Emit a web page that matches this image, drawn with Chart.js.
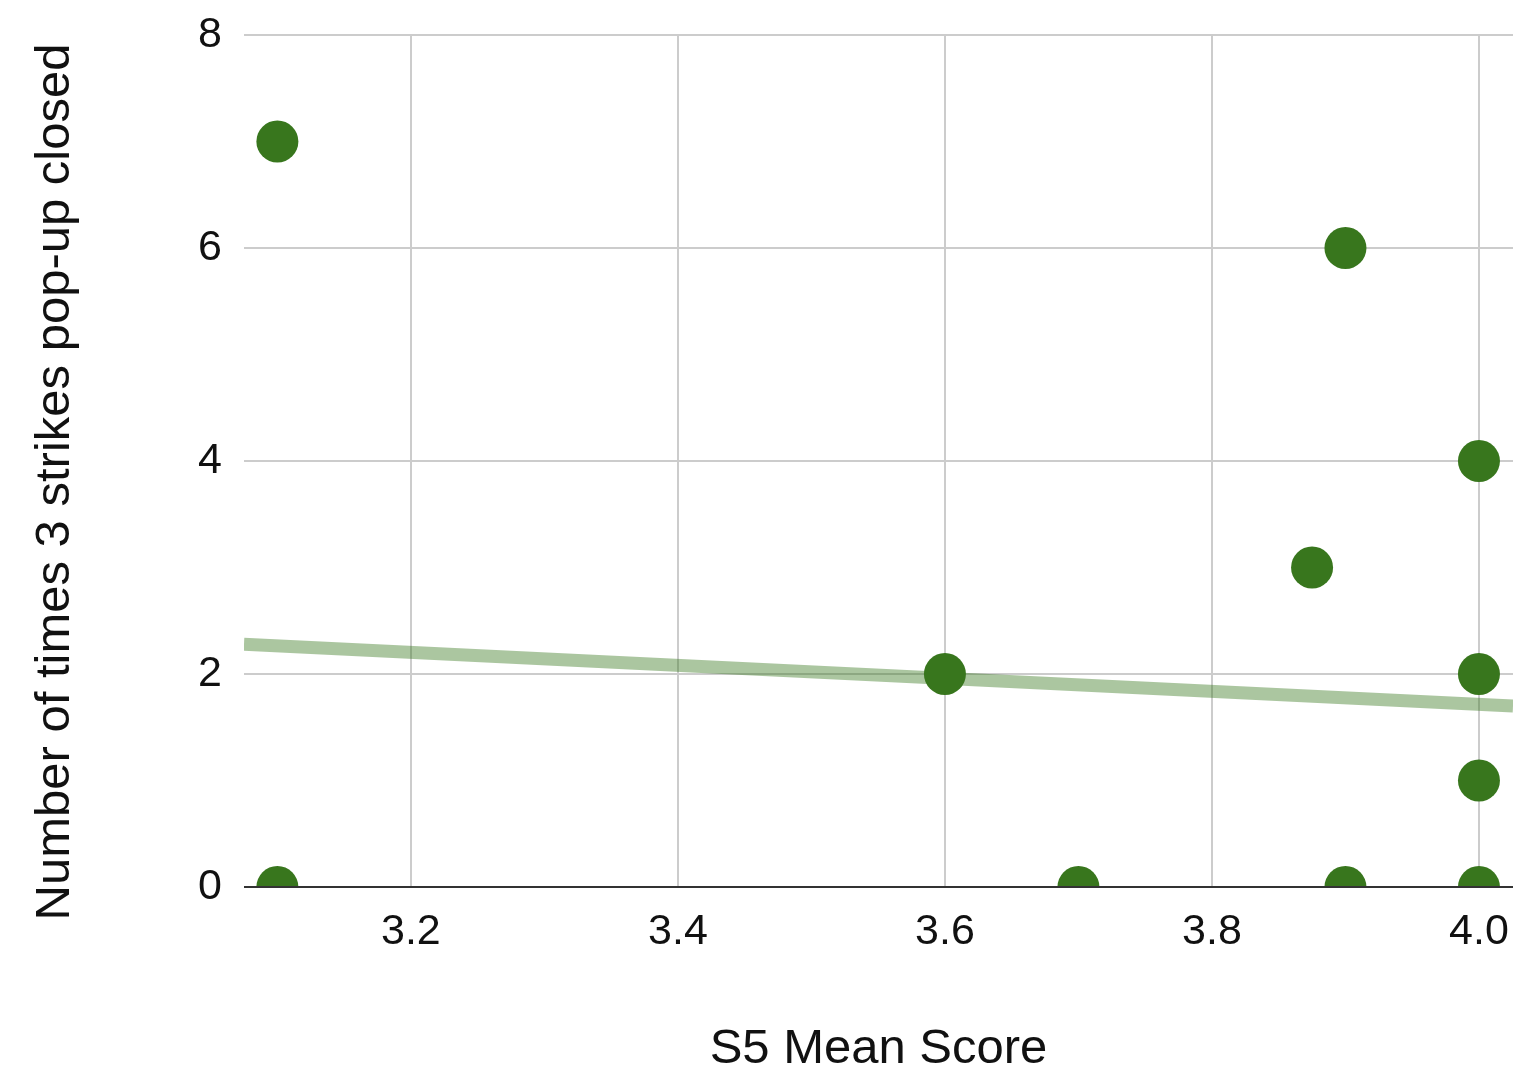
<!DOCTYPE html>
<html>
<head>
<meta charset="utf-8">
<script src="https://cdn.jsdelivr.net/npm/chart.js@4.4.1/dist/chart.umd.min.js"></script>
<style>
  html, body { margin: 0; padding: 0; background: #fff; }
  #wrap { width: 1518px; height: 1068px; }
</style>
</head>
<body>
<div id="wrap"><canvas id="chart"></canvas></div>
<script>
// 散点数据：S5 平均分 / 弹窗关闭次数
const scoreX = [3.1, 3.1, 3.6, 3.7, 3.875, 3.9, 3.9, 4.0, 4.0, 4.0, 4.0];
const closedY = [7, 0, 2, 0, 3, 6, 0, 4, 2, 1, 0];

// 趋势线两端（从图上读出来的）
const trendX = [3.075, 4.0255];
const trendY = [2.28, 1.70];

const xTicks = [3.2, 3.4, 3.6, 3.8, 4.0];
const yTicks = [0, 2, 4, 6, 8];

const xTitle = 'S5 Mean Score';
const yTitle = 'Number of times 3 strikes pop-up closed';

const points = scoreX.map((x, i) => ({ x: x, y: closedY[i] }));
const trend = trendX.map((x, i) => ({ x: x, y: trendY[i] }));

const FONT = "'Liberation Sans', Arial, Helvetica, sans-serif";

// 0 那条深色基线画在点上面
const baseLine = {
    id: 'baseLine',
    afterDatasetsDraw(chart) {
        const { ctx, chartArea, scales } = chart;
        const y = scales.y.getPixelForValue(0);
        ctx.save();
        ctx.strokeStyle = '#333333';
        ctx.lineWidth = 2;
        ctx.beginPath();
        ctx.moveTo(chartArea.left, y);
        ctx.lineTo(chartArea.right, y);
        ctx.stroke();
        ctx.restore();
    }
};

// 纵轴标题自己画，原图里它比绘图区稍微往下
const yTitlePlugin = {
    id: 'yTitlePlugin',
    afterDraw(chart) {
        const ctx = chart.ctx;
        ctx.save();
        ctx.translate(55, 482);
        ctx.rotate(-Math.PI / 2);
        ctx.fillStyle = '#111';
        ctx.font = '49px ' + FONT;
        ctx.textAlign = 'center';
        ctx.textBaseline = 'middle';
        ctx.fillText(yTitle, 0, 0);
        ctx.restore();
    }
};

const ctx = document.getElementById('chart').getContext('2d');
const chart = new Chart(ctx, {
    type: 'scatter',
    data: {
        datasets: [
            {
                label: 'points',
                data: points,
                backgroundColor: '#38761d',
                borderColor: '#38761d',
                pointRadius: 21,
                pointHoverRadius: 21,
                borderWidth: 0,
                clip: 0,
                order: 0
            },
            {
                type: 'line',
                label: 'trend',
                data: trend,
                borderColor: 'rgba(56, 118, 29, 0.42)',
                borderWidth: 13,
                pointRadius: 0,
                fill: false,
                clip: 0,
                order: 1
            }
        ]
    },
    options: {
        responsive: true,
        maintainAspectRatio: false,
        animation: false,
        layout: {
            autoPadding: false,  // 大圆点会让 v4 自动多留边，关掉
            padding: { top: 35, right: 5, left: 0, bottom: 0 }
        },
        plugins: {
            legend: { display: false },
            tooltip: { enabled: false }
        },
        scales: {
            x: {
                type: 'linear',
                min: trendX[0],
                max: trendX[1],
                afterBuildTicks: axis => { axis.ticks = xTicks.map(v => ({ value: v })); },
                afterFit: axis => {
                    axis.height = 181;
                    axis.paddingLeft = 0;
                    axis.paddingRight = 0;
                },
                grid: { color: '#cccccc', lineWidth: 2, drawTicks: false },
                border: { display: false },
                ticks: {
                    padding: 19,
                    color: '#111',
                    font: { family: FONT, size: 43 },
                    callback: v => v.toFixed(1)
                },
                title: {
                    display: true,
                    text: xTitle,
                    color: '#111',
                    font: { family: FONT, size: 49, lineHeight: 1 },
                    padding: { top: 0, bottom: -6 }
                }
            },
            y: {
                min: 0,
                max: 8,
                afterBuildTicks: axis => { axis.ticks = yTicks.map(v => ({ value: v })); },
                afterFit: axis => {
                    axis.width = 244;
                    axis.paddingTop = 0;
                    axis.paddingBottom = 0;
                },
                grid: { color: '#cccccc', lineWidth: 2, drawTicks: false },
                border: { display: false },
                ticks: {
                    padding: 22,
                    color: '#111',
                    font: { family: FONT, size: 43 }
                },
                title: { display: false }
            }
        }
    },
    plugins: [baseLine, yTitlePlugin]
});
</script>
</body>
</html>
